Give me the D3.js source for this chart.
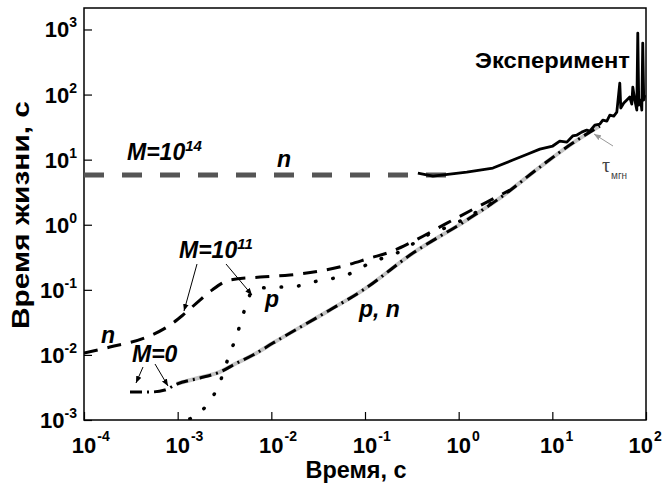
<!DOCTYPE html>
<html>
<head>
<meta charset="utf-8">
<script src="https://cdn.jsdelivr.net/npm/d3@7"></script>
<style>
  body { margin: 0; background: #fff; }
  svg { display: block; font-family: "Liberation Sans", Arial, sans-serif; }
</style>
</head>
<body>
<svg id="chart" width="663" height="488"></svg>
<script>
// M = 1e14, n : flat lifetime
const tM14 = [1e-4, 1.0];
const lifeM14 = [5.8, 5.8];

// experiment (noisy, measured)
const tExp = [0.367, 0.531, 0.805, 1.22, 2.32, 3.79, 5.48, 7.36, 10.1, 12.0, 14.3, 16.5, 18.3, 20.6, 23.3, 25.1,
  28.4, 32.1, 34.6, 38.2, 41.1, 45.3, 48.8, 52.5, 53.8, 57.9, 62.4, 67.1, 70.5, 72.3, 75.9, 79.8, 81.7, 83.7,
  87.9, 90.2, 92.3, 94.6, 97.0];
const lifeExp = [6.2, 5.6, 6.0, 6.45, 7.43, 9.86, 12.2, 14.5, 16.2, 19.3, 18.6, 23.1, 23.9, 26.5, 28.5, 27.5,
  34.0, 35.2, 40.6, 39.2, 48.4, 46.8, 53.8, 150, 62.1, 74.0, 82.4, 91.6, 71.5, 130, 82.4, 57.8, 881, 69.0,
  82.4, 57.8, 618, 82.4, 98.2];

// M = 0 : p, n
const tPN = [3.1e-4, 5.06e-4, 7.3e-4, 9.8e-4, 1.73e-3, 2.83e-3, 4.29e-3, 6.36e-3, 0.0104, 0.0422, 0.095, 0.325,
  1.22, 2.75, 7.36, 16.5, 25.1, 32.1];
const lifePN = [2.69e-3, 2.69e-3, 2.89e-3, 3.57e-3, 4.42e-3, 5.46e-3, 7.52e-3, 9.95e-3, 0.0152, 0.049, 0.099, 0.367,
  1.18, 2.57, 7.69, 18.0, 26.5, 32.8];

// instantaneous lifetime (gray)
const tInst = [9.8e-4, 1.73e-3, 2.83e-3, 4.29e-3, 6.36e-3, 0.0104, 0.0422, 0.095, 0.325, 1.22, 2.75, 7.36, 16.5, 25.1, 32.1];
const lifeInst = [3.6e-3, 4.5e-3, 5.5e-3, 7.5e-3, 9.95e-3, 0.0152, 0.049, 0.099, 0.367, 1.18, 2.57, 7.69, 18.0, 26.5, 32.8];

// M = 1e11, n
const tM11n = [1e-4, 1.89e-4, 4.7e-4, 8.3e-4, 1.14e-3, 1.73e-3, 2.32e-3, 3.62e-3, 7.6e-3, 0.0158, 0.033, 0.064,
  0.113, 0.185, 0.301, 0.75, 2.0, 3.52];
const lifeM11n = [0.0107, 0.0132, 0.0188, 0.0288, 0.041, 0.0697, 0.099, 0.142, 0.157, 0.169, 0.195, 0.240,
  0.308, 0.381, 0.524, 1.06, 2.23, 3.41];

// M = 1e11, p
const tM11p = [1.35e-3, 2.05e-3, 2.69e-3, 3.62e-3, 4.29e-3, 4.86e-3, 5.63e-3, 6.2e-3, 8.1e-3, 0.0124, 0.0188,
  0.0307, 0.064, 0.119, 0.219, 0.49, 0.81, 1.56, 2.75];
const lifeM11p = [1.04e-3, 1.70e-3, 3.21e-3, 0.0107, 0.0202, 0.0369, 0.0697, 0.096, 0.107, 0.110, 0.114,
  0.136, 0.169, 0.267, 0.367, 0.72, 0.96, 1.57, 2.57];

const xExps = [-4, -3, -2, -1, 0, 1, 2];
const yExps = [-3, -2, -1, 0, 1, 2, 3];

const width = 663, height = 488;
const margin = {top: 8, right: 17, bottom: 68, left: 84};
const x0 = margin.left, x1 = width - margin.right;
const y0 = height - margin.bottom, y1 = margin.top;

const svg = d3.select("#chart");

const x = d3.scaleLog().domain([1e-4, 1e2]).range([x0, x1]);
const y = d3.scaleLog().domain([1e-3, Math.pow(10, 3.33)]).range([y0, y1]);

// minor tick values
const minorOf = exps => {
  const out = [];
  exps.slice(0, -1).forEach(e => { for (let k = 2; k <= 9; k++) out.push(k * Math.pow(10, e)); });
  return out;
};

// x axis
const gx = svg.append("g").attr("transform", `translate(0,${y0})`);
gx.call(d3.axisBottom(x).tickValues(minorOf(xExps)).tickSize(-4).tickFormat(""));
gx.call(d3.axisBottom(x).tickValues(xExps.map(e => Math.pow(10, e))).tickSize(-8).tickFormat(""));
gx.selectAll(".domain").remove();
gx.selectAll(".tick line").attr("stroke", "#000").attr("stroke-width", 1.2);

// y axis
const gy = svg.append("g").attr("transform", `translate(${x0},0)`);
gy.call(d3.axisLeft(y).tickValues(minorOf(yExps)).tickSize(-5).tickFormat(""));
gy.call(d3.axisLeft(y).tickValues(yExps.map(e => Math.pow(10, e))).tickSize(-8).tickFormat(""));
gy.selectAll(".domain").remove();
gy.selectAll(".tick line").attr("stroke", "#000").attr("stroke-width", 1.2);

// x tick labels: "10" centred on the tick, exponent after it
xExps.forEach(e => {
  const g = svg.append("g");
  const base = g.append("text")
    .attr("x", x(Math.pow(10, e))).attr("y", y0 + 33)
    .attr("text-anchor", "middle")
    .attr("font-size", 22).attr("font-weight", "bold")
    .text("10");
  const w = base.node().getComputedTextLength();
  g.append("text")
    .attr("x", x(Math.pow(10, e)) + w / 2 + 1).attr("y", y0 + 21)
    .attr("font-size", 14).attr("font-weight", "bold")
    .text(e);
  const bb = g.node().getBBox();
  if (bb.x + bb.width > width) g.attr("transform", `translate(${width - (bb.x + bb.width) - 1},0)`);
});

// y tick labels
yExps.forEach(e => {
  const t = svg.append("text")
    .attr("x", x0 - 7).attr("y", y(Math.pow(10, e)) + 8)
    .attr("text-anchor", "end")
    .attr("font-size", 22).attr("font-weight", "bold");
  t.append("tspan").text("10");
  t.append("tspan").attr("font-size", 14).attr("dy", -10).text(e);
});

// frame
svg.append("rect")
  .attr("x", x0).attr("y", y1).attr("width", x1 - x0).attr("height", y0 - y1)
  .attr("fill", "none").attr("stroke", "#000").attr("stroke-width", 1.5);

// axis titles
svg.append("text")
  .attr("x", 356).attr("y", 478)
  .attr("text-anchor", "middle").attr("font-size", 23).attr("font-weight", "bold")
  .attr("textLength", 101).attr("lengthAdjust", "spacingAndGlyphs")
  .text("Время, с");
svg.append("text")
  .attr("transform", "translate(29,215) rotate(-90)")
  .attr("text-anchor", "middle").attr("font-size", 24).attr("font-weight", "bold")
  .attr("textLength", 228).attr("lengthAdjust", "spacingAndGlyphs")
  .text("Время жизни, с");

// curves
svg.append("clipPath").attr("id", "plotClip")
  .append("rect").attr("x", x0).attr("y", y1).attr("width", x1 - x0).attr("height", y0 - y1);
const plot = svg.append("g").attr("clip-path", "url(#plotClip)");

const zip = (ts, vs) => ts.map((t, i) => [t, vs[i]]);
const smooth = d3.line().x(d => x(d[0])).y(d => y(d[1])).curve(d3.curveMonotoneX);
const straight = d3.line().x(d => x(d[0])).y(d => y(d[1]));

// gray instantaneous lifetime
plot.append("path")
  .attr("d", smooth(zip(tInst, lifeInst)))
  .attr("fill", "none").attr("stroke", "#c4c4c4").attr("stroke-width", 4);

// M = 1e14, n
plot.append("path")
  .attr("d", straight(zip(tM14, lifeM14)))
  .attr("fill", "none").attr("stroke", "#555").attr("stroke-width", 5)
  .attr("stroke-dasharray", "20,18");

// experiment
plot.append("path")
  .attr("d", straight(zip(tExp, lifeExp)))
  .attr("fill", "none").attr("stroke", "#000").attr("stroke-width", 2.8)
  .attr("stroke-linejoin", "round");

// M = 0, p n  (dash-dot)
plot.append("path")
  .attr("d", smooth(zip(tPN, lifePN)))
  .attr("fill", "none").attr("stroke", "#000").attr("stroke-width", 3)
  .attr("stroke-dasharray", "12,5,2,5");

// M = 1e11, n  (long dash)
plot.append("path")
  .attr("d", smooth(zip(tM11n, lifeM11n)))
  .attr("fill", "none").attr("stroke", "#000").attr("stroke-width", 3)
  .attr("stroke-dasharray", "14,10");

// M = 1e11, p  (dots)
plot.append("path")
  .attr("d", smooth(zip(tM11p, lifeM11p)))
  .attr("fill", "none").attr("stroke", "#000").attr("stroke-width", 3.5)
  .attr("stroke-linecap", "round")
  .attr("stroke-dasharray", "0.5,17");

// annotations
const defs = svg.append("defs");
[["arrBlack", "#000"], ["arrGray", "#999"]].forEach(([id, c]) => {
  defs.append("marker").attr("id", id)
    .attr("viewBox", "0 0 10 10").attr("refX", 10).attr("refY", 5)
    .attr("markerWidth", 7).attr("markerHeight", 7).attr("orient", "auto")
    .attr("markerUnits", "userSpaceOnUse")
    .append("path").attr("d", "M0,1 L10,5 L0,9 Z").attr("fill", c);
});

const arrows = [
  [197, 264, 184, 311, "arrBlack", "#000"],
  [226, 264, 252, 295, "arrBlack", "#000"],
  [143, 367, 136, 383, "arrBlack", "#000"],
  [155, 364, 168, 386, "arrBlack", "#000"],
  [613, 146, 594, 134, "arrGray", "#999"]
];
arrows.forEach(([ax, ay, bx, by, m, c]) => {
  svg.append("line")
    .attr("x1", ax).attr("y1", ay).attr("x2", bx).attr("y2", by)
    .attr("stroke", c).attr("stroke-width", 1)
    .attr("marker-end", `url(#${m})`);
});

const label = (px, py, main, sup) => {
  const t = svg.append("text")
    .attr("x", px).attr("y", py)
    .attr("font-size", 23).attr("font-weight", "bold").attr("font-style", "italic");
  t.append("tspan").text(main);
  if (sup) t.append("tspan").attr("font-size", 15).attr("dy", -9).text(sup);
  return t;
};
label(127, 160, "M=10", "14");
label(277, 167, "n");
label(179, 258, "M=10", "11");
label(265, 307, "p");
label(101, 343, "n");
label(132, 362, "M=0");
label(359, 317, "p, n");

svg.append("text")
  .attr("x", 475).attr("y", 68)
  .attr("font-size", 22).attr("font-weight", "bold")
  .attr("textLength", 155).attr("lengthAdjust", "spacingAndGlyphs")
  .text("Эксперимент");

svg.append("text")
  .attr("x", 602).attr("y", 172)
  .attr("fill", "#444").attr("font-size", 20)
  .attr("font-family", "'Liberation Serif', serif")
  .text("τ");
svg.append("text")
  .attr("x", 611).attr("y", 179)
  .attr("fill", "#444").attr("font-size", 10)
  .text("мгн");
</script>
</body>
</html>
